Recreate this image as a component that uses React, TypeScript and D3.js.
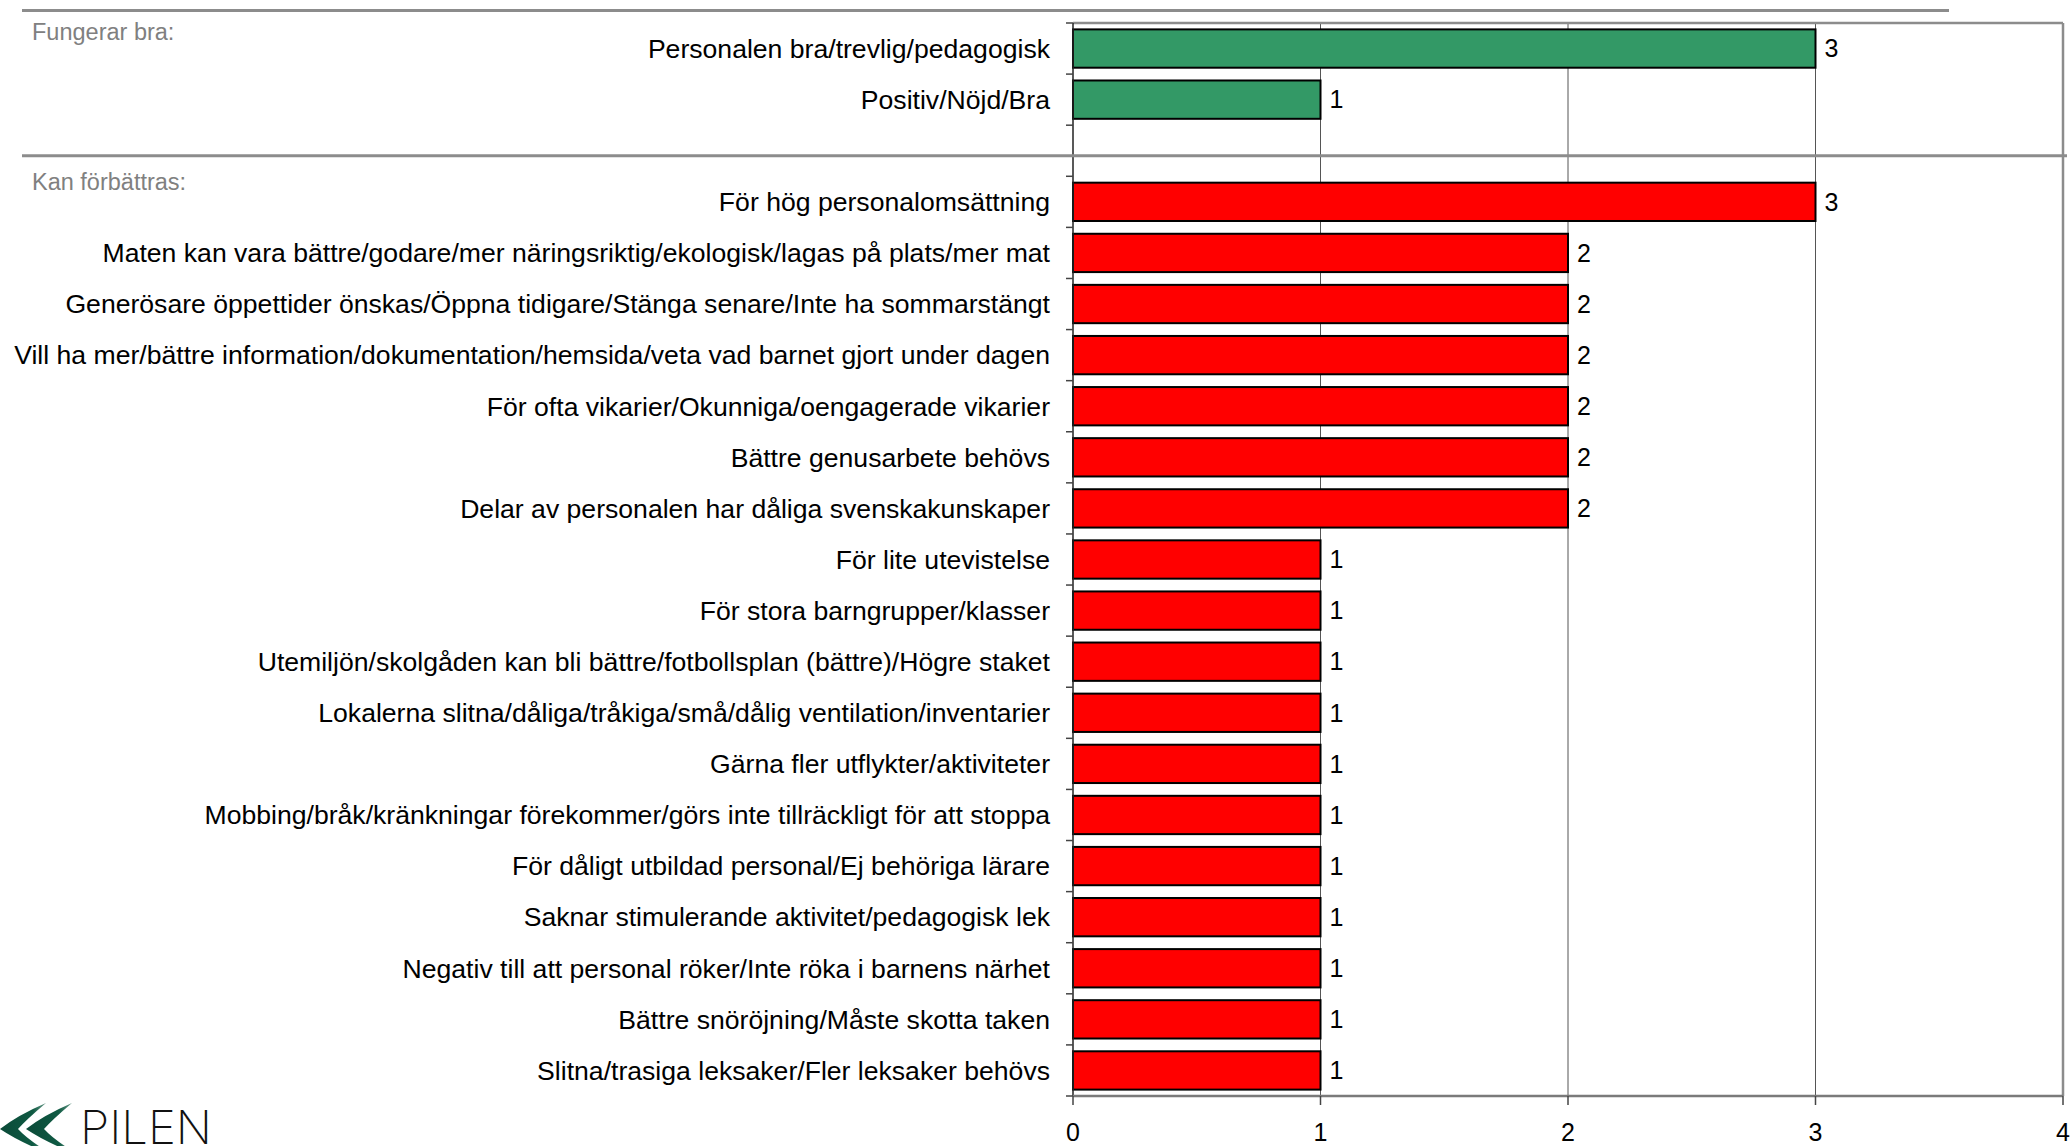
import React from "react";
import * as d3 from "d3";

const goodCategories = ["Personalen bra/trevlig/pedagogisk", "Positiv/Nöjd/Bra"];
const goodValues = [3, 1];

const badCategories = [
  "För hög personalomsättning",
  "Maten kan vara bättre/godare/mer näringsriktig/ekologisk/lagas på plats/mer mat",
  "Generösare öppettider önskas/Öppna tidigare/Stänga senare/Inte ha sommarstängt",
  "Vill ha mer/bättre information/dokumentation/hemsida/veta vad barnet gjort under dagen",
  "För ofta vikarier/Okunniga/oengagerade vikarier",
  "Bättre genusarbete behövs",
  "Delar av personalen har dåliga svenskakunskaper",
  "För lite utevistelse",
  "För stora barngrupper/klasser",
  "Utemiljön/skolgåden kan bli bättre/fotbollsplan (bättre)/Högre staket",
  "Lokalerna slitna/dåliga/tråkiga/små/dålig ventilation/inventarier",
  "Gärna fler utflykter/aktiviteter",
  "Mobbing/bråk/kränkningar förekommer/görs inte tillräckligt för att stoppa",
  "För dåligt utbildad personal/Ej behöriga lärare",
  "Saknar stimulerande aktivitet/pedagogisk lek",
  "Negativ till att personal röker/Inte röka i barnens närhet",
  "Bättre snöröjning/Måste skotta taken",
  "Slitna/trasiga leksaker/Fler leksaker behövs",
];
const badValues = [3, 2, 2, 2, 2, 2, 2, 1, 1, 1, 1, 1, 1, 1, 1, 1, 1, 1];

const sectionLabels = ["Fungerar bra:", "Kan förbättras:"];
const xTicks = [0, 1, 2, 3, 4];

const FONT = "'Liberation Sans', Arial, sans-serif";

type Row = { key: string; label: string; value: number | null; group: "good" | "bad" | "gap" };

const rows: Row[] = [
  ...goodCategories.map((c, i) => ({ key: "g" + i, label: c, value: goodValues[i], group: "good" as const })),
  { key: "gap", label: "", value: null, group: "gap" as const },
  ...badCategories.map((c, i) => ({ key: "b" + i, label: c, value: badValues[i], group: "bad" as const })),
];

export default function App() {
  const W = 2071;
  const H = 1146;
  const left = 1073;
  const right = 2063;
  const top = 23;
  const bottom = 1096;

  const x = d3.scaleLinear().domain([0, 4]).range([left, right]);
  const y = d3
    .scaleBand<string>()
    .domain(rows.map((r) => r.key))
    .range([top, bottom])
    .paddingInner(0.25)
    .paddingOuter(0.125);
  const step = y.step();
  const boundaries = d3.range(rows.length + 1).map((k) => top + k * step);

  const gapCenter = (y("gap") ?? 0) + y.bandwidth() / 2;
  const sep2 = gapCenter + 5;

  const chevron = (tx: number, ty: number) =>
    `M${tx},${ty} Q${tx + 18},${ty - 14} ${tx + 46},${ty - 26} Q${tx + 27},${ty - 10} ${tx + 18},${ty} Q${tx + 29},${ty + 12} ${tx + 55},${ty + 27} Q${tx + 21},${ty + 14} ${tx},${ty} Z`;

  return (
    <svg
      width={W}
      height={H}
      style={{ position: "absolute", left: 0, top: 0, background: "#fff" }}
      fontFamily={FONT}
    >
      <defs>
        <linearGradient id="chev" x1="0" y1="0" x2="1" y2="0">
          <stop offset="0" stopColor="#0b4a38" />
          <stop offset="0.6" stopColor="#0f5a43" />
          <stop offset="1" stopColor="#a9c7bb" />
        </linearGradient>
      </defs>
      <rect x={0} y={0} width={W} height={H} fill="#fff" />

      {/* gridlines */}
      {xTicks.slice(1, 4).map((t) => (
        <line key={"g" + t} x1={x(t)} x2={x(t)} y1={top} y2={bottom} stroke="#555" strokeWidth={1} />
      ))}

      {/* plot border top/right */}
      <line x1={left} x2={right} y1={top} y2={top} stroke="#8c8c8c" strokeWidth={2.5} />
      <line x1={right} x2={right} y1={top} y2={bottom} stroke="#8c8c8c" strokeWidth={2.5} />

      {/* bars */}
      {rows
        .filter((r) => r.value !== null)
        .map((r) => (
          <g key={r.key}>
            <rect
              x={x(0)}
              y={y(r.key)}
              width={x(r.value as number) - x(0)}
              height={y.bandwidth()}
              fill={r.group === "good" ? "#339966" : "#ff0000"}
              stroke="#000"
              strokeWidth={2}
            />
            <text
              x={x(r.value as number) + 9}
              y={(y(r.key) ?? 0) + y.bandwidth() / 2}
              dy="0.35em"
              fontSize={25}
              fill="#000"
            >
              {r.value}
            </text>
          </g>
        ))}

      {/* category labels */}
      {rows.map((r) => (
        <text
          key={"l" + r.key}
          x={left - 23}
          y={(y(r.key) ?? 0) + y.bandwidth() / 2}
          dy="0.35em"
          textAnchor="end"
          fontSize={26.6}
          fill="#000"
        >
          {r.label}
        </text>
      ))}

      {/* y axis */}
      <line x1={left} x2={left} y1={top} y2={bottom} stroke="#222" strokeWidth={1.5} />
      {boundaries.map((b, i) => (
        <line key={"yt" + i} x1={left - 7} x2={left} y1={b} y2={b} stroke="#444" strokeWidth={1.5} />
      ))}

      {/* x axis */}
      <line x1={left} x2={right} y1={bottom} y2={bottom} stroke="#7a7a7a" strokeWidth={2.5} />
      {xTicks.map((t) => (
        <g key={"xt" + t}>
          <line x1={x(t)} x2={x(t)} y1={bottom} y2={bottom + 9} stroke="#444" strokeWidth={1.5} />
          <text x={x(t)} y={1141} textAnchor="middle" fontSize={25} fill="#000">
            {t}
          </text>
        </g>
      ))}

      {/* separators */}
      <line x1={22} x2={1949} y1={10.5} y2={10.5} stroke="#8c8c8c" strokeWidth={3} />
      <line x1={22} x2={2067} y1={sep2} y2={sep2} stroke="#8c8c8c" strokeWidth={3} />

      {/* section labels */}
      <text x={32} y={40} fontSize={23.5} fill="#808080">
        {sectionLabels[0]}
      </text>
      <text x={32} y={sep2 + 34} fontSize={23.5} fill="#808080">
        {sectionLabels[1]}
      </text>

      {/* logo */}
      <path d={chevron(0, 1129)} fill="url(#chev)" />
      <path d={chevron(26, 1129)} fill="url(#chev)" />
      <text
        x={80}
        y={1144}
        fontSize={46}
        fontFamily="Inter, Lato, 'Open Sans', sans-serif"
        fontWeight={200}
        textLength={132}
        lengthAdjust="spacingAndGlyphs"
        fill="#111"
      >
        PILEN
      </text>
    </svg>
  );
}
